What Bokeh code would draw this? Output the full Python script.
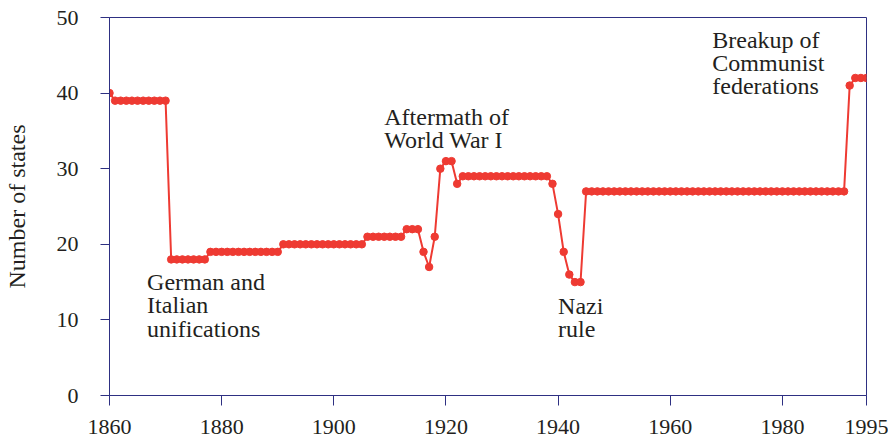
from bokeh.plotting import figure
from bokeh.models import FixedTicker, Range1d, ColumnDataSource
from bokeh.core.properties import value
from bokeh.embed import file_html
from bokeh.resources import INLINE

# ---- data ----
years = list(range(1860, 1996))
states = [
    40,                                          # 1860
    39, 39, 39, 39, 39, 39, 39, 39, 39, 39,      # 1861-1870
    18, 18, 18, 18, 18, 18, 18,                  # 1871-1877
    19, 19, 19, 19, 19, 19, 19, 19, 19, 19, 19, 19, 19,  # 1878-1890
    20, 20, 20, 20, 20, 20, 20, 20, 20, 20, 20, 20, 20, 20, 20,  # 1891-1905
    21, 21, 21, 21, 21, 21, 21,                  # 1906-1912
    22, 22, 22,                                  # 1913-1915
    19, 17, 21, 30, 31, 31, 28,                  # 1916-1922
    29, 29, 29, 29, 29, 29, 29, 29, 29, 29, 29, 29, 29, 29, 29, 29,  # 1923-1938
    28, 24, 19, 16, 15, 15,                      # 1939-1944
    27, 27, 27, 27, 27, 27, 27, 27, 27, 27,      # 1945-1954
    27, 27, 27, 27, 27, 27, 27, 27, 27, 27,      # 1955-1964
    27, 27, 27, 27, 27, 27, 27, 27, 27, 27,      # 1965-1974
    27, 27, 27, 27, 27, 27, 27, 27, 27, 27,      # 1975-1984
    27, 27, 27, 27, 27, 27, 27,                  # 1985-1991
    41,                                          # 1992
    42, 42, 42,                                  # 1993-1995
]

x_ticks = [1860, 1880, 1900, 1920, 1940, 1960, 1980, 1995]
y_ticks = [0, 10, 20, 30, 40, 50]

ann_text = ["German and", "Italian", "unifications",
            "Aftermath of", "World War I",
            "Nazi", "rule",
            "Breakup of", "Communist", "federations"]
ann_x = [1866.7, 1866.7, 1866.7,
         1909.0, 1909.0,
         1940.0, 1940.0,
         1967.5, 1967.5, 1967.5]
ann_y = [15.05, 11.95, 8.85,
         36.85, 33.8,
         11.87, 8.78,
         47.05, 43.97, 40.88]

# ---- style ----
NAVY = "#2e3082"
RED = "#ee3a32"
TXT = "#231f20"
FONT = "Liberation Serif"

p = figure(width=888, height=447, output_backend="svg", toolbar_location=None,
           x_range=Range1d(1860, 1995), y_range=Range1d(0, 50),
           min_border_left=108, min_border_right=22,
           min_border_top=17, min_border_bottom=52)

p.background_fill_color = "white"
p.border_fill_color = "white"
p.outline_line_color = NAVY
p.outline_line_alpha = 1
p.outline_line_width = 1
p.xgrid.visible = False
p.ygrid.visible = False

p.xaxis.ticker = FixedTicker(ticks=x_ticks)
p.yaxis.ticker = FixedTicker(ticks=y_ticks)
for ax in (p.xaxis, p.yaxis):
    ax.axis_line_color = NAVY
    ax.axis_line_width = 1
    ax.major_tick_line_color = NAVY
    ax.major_tick_line_width = 1
    ax.major_tick_in = 0
    ax.minor_tick_line_color = None
    ax.major_label_text_font = FONT
    ax.major_label_text_font_size = "22px"
    ax.major_label_text_color = TXT

p.xaxis.major_tick_out = 10
p.xaxis.major_label_standoff = 14
p.yaxis.major_tick_out = 9
p.yaxis.major_label_standoff = 22

p.yaxis.axis_label = "Number of states"
p.yaxis.axis_label_text_font = FONT
p.yaxis.axis_label_text_font_size = "24px"
p.yaxis.axis_label_text_font_style = "normal"
p.yaxis.axis_label_text_color = TXT
p.yaxis.axis_label_standoff = 24

src = ColumnDataSource(data=dict(year=years, states=states))
p.line("year", "states", source=src, line_color=RED, line_width=2)
p.scatter("year", "states", source=src, size=7.5, fill_color=RED, line_color=RED)

ann = ColumnDataSource(data=dict(x=ann_x, y=ann_y, text=ann_text))
p.text("x", "y", text="text", source=ann, text_font=value(FONT),
       text_font_size="24px", text_color=TXT,
       text_align="left", text_baseline="alphabetic")

open("out.html", "w").write(file_html(p, INLINE))
